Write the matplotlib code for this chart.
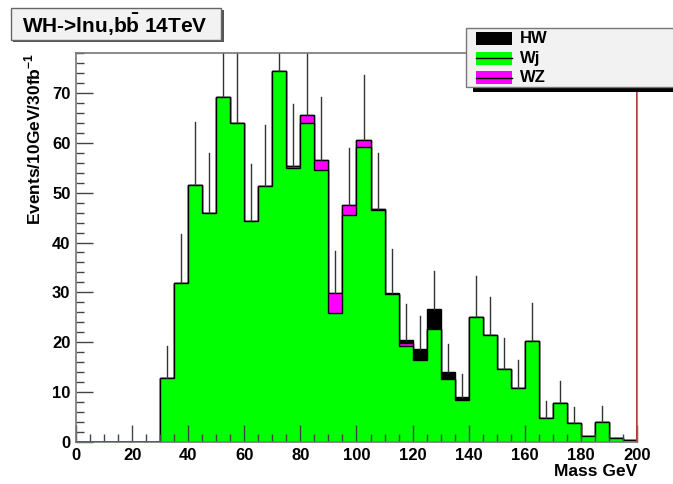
import numpy as np
import matplotlib.pyplot as plt
from matplotlib.patches import Rectangle
from matplotlib.ticker import MultipleLocator

plt.rcParams['font.family'] = ['Liberation Sans', 'DejaVu Sans']
plt.rcParams['font.weight'] = 'bold'
plt.rcParams['mathtext.fontset'] = 'custom'
plt.rcParams['mathtext.rm'] = 'Liberation Sans:bold'
plt.rcParams['mathtext.bf'] = 'Liberation Sans:bold'

# 40 bins of 5 GeV from 0 to 200
edges = np.arange(0, 205, 5)

wj = [0, 0, 0, 0, 0, 0,
      12.9, 31.8, 51.5, 46.0, 69.1, 64.0, 44.3, 51.4, 74.3, 55.0,
      64.0, 54.6, 25.9, 45.5, 59.2, 46.5, 29.6, 19.3, 16.4, 22.7,
      12.6, 8.4, 25.0, 21.5, 14.6, 10.9, 20.2, 4.9, 7.9, 3.75,
      1.2, 4.1, 0.9, 0.3]
wz = [0, 0, 0, 0, 0, 0,
      0, 0, 0, 0, 0, 0, 0, 0, 0, 0.3,
      1.5, 2.0, 3.9, 2.0, 1.4, 0.3, 0, 0.5, 0, 0,
      0, 0, 0, 0, 0, 0, 0, 0, 0, 0,
      0, 0, 0, 0]
hw = [0, 0, 0, 0, 0, 0,
      0, 0, 0, 0, 0, 0, 0, 0, 0, 0,
      0, 0, 0, 0, 0, 0, 0.2, 0.6, 2.2, 3.9,
      1.4, 0.7, 0, 0, 0, 0, 0, 0, 0, 0,
      0, 0, 0, 0]
err = [0, 0, 0, 0, 0, 0,
       6.3, 10.0, 12.6, 12.0, 14.0, 14.0, 11.5, 12.2, 14.0, 12.5,
       14.0, 12.6, 8.5, 11.5, 12.9, 11.2, 8.9, 7.3, 6.7, 7.7,
       5.6, 4.5, 8.3, 7.6, 6.3, 5.5, 7.7, 3.3, 4.3, 3.2,
       0, 3.2, 0, 0]

wj = np.array(wj)
s2 = wj + np.array(wz)
s3 = s2 + np.array(hw)
centers = (edges[:-1] + edges[1:]) / 2

fig = plt.figure(figsize=(6.73, 4.84), dpi=100)
ax = fig.add_axes([0.1129, 0.0868, 0.8336, 0.8037])

ax.stairs(s3, edges, fill=True, facecolor='black', edgecolor='black', lw=1)
ax.stairs(s2, edges, fill=True, facecolor='#ff00ff', edgecolor='black', lw=1)
ax.stairs(wj, edges, fill=True, facecolor='#00ff00', edgecolor='black', lw=1)

for c, t, e in zip(centers, s3, err):
    if e > 0:
        ax.plot([c, c], [t, t + e], color='#333333', lw=1)

# red lines of the empty histogram
ax.plot([0, 30], [0, 0], color='#b03030', lw=1.2, zorder=5)
ax.plot([200, 200], [0, 80], color='#b03030', lw=1.2, zorder=5)

ax.set_xlim(0, 200)
ax.set_ylim(0, 78)
ax.xaxis.set_major_locator(MultipleLocator(20))
ax.xaxis.set_minor_locator(MultipleLocator(5))
ax.yaxis.set_major_locator(MultipleLocator(10))
ax.yaxis.set_minor_locator(MultipleLocator(2))
ax.tick_params(direction='in', which='major', length=12, width=1, color='#444444',
               labelsize=12, pad=4)
ax.tick_params(direction='in', which='minor', length=6, width=1, color='#444444')
for sp in ax.spines.values():
    sp.set_color('#777777')
    sp.set_linewidth(1.2)

ax.set_xlabel('Mass GeV', fontsize=12.5, fontweight='bold', loc='right', labelpad=1)
ax.set_ylabel(r'Events/10GeV/30fb$^{-1}$', fontsize=12.5, fontweight='bold',
              loc='top', labelpad=6)

# title box
fig.patches.append(Rectangle((13 / 673, 1 - 42 / 484), 211 / 673, 32 / 484,
                             transform=fig.transFigure, facecolor='#555555',
                             edgecolor='none'))
fig.patches.append(Rectangle((11 / 673, 1 - 40 / 484), 210 / 673, 32 / 484,
                             transform=fig.transFigure, facecolor='#f2f2f2',
                             edgecolor='#666666', lw=1))
fig.text(115 / 673, 1 - 25 / 484, r'WH->lnu,b$\bar{\mathrm{b}}$ 14TeV', ha='center',
         va='center', fontsize=15, fontweight='bold')

# legend box
fig.patches.append(Rectangle((473 / 673, 1 - 92 / 484), 210 / 673, 62 / 484,
                             transform=fig.transFigure, facecolor='black',
                             edgecolor='none'))
fig.patches.append(Rectangle((466 / 673, 1 - 87 / 484), 215 / 673, 59 / 484,
                             transform=fig.transFigure, facecolor='#f2f2f2',
                             edgecolor='#777777', lw=1))
labels = ['HW', 'Wj', 'WZ']
colors = ['black', '#00ff00', '#ff00ff']
for i, (lab, col) in enumerate(zip(labels, colors)):
    yc = 38.5 + i * 19.5
    fig.patches.append(Rectangle((476 / 673, 1 - (yc + 6.5) / 484), 36 / 673, 13 / 484,
                                 transform=fig.transFigure, facecolor=col,
                                 edgecolor='none'))
    if i > 0:
        fig.lines.append(plt.Line2D([476 / 673, 512 / 673], [1 - yc / 484, 1 - yc / 484],
                                    transform=fig.transFigure, color='black', lw=1))
    fig.text(520 / 673, 1 - yc / 484, lab, ha='left', va='center', fontsize=12,
             fontweight='bold')

fig.savefig('out.png', dpi=100)
